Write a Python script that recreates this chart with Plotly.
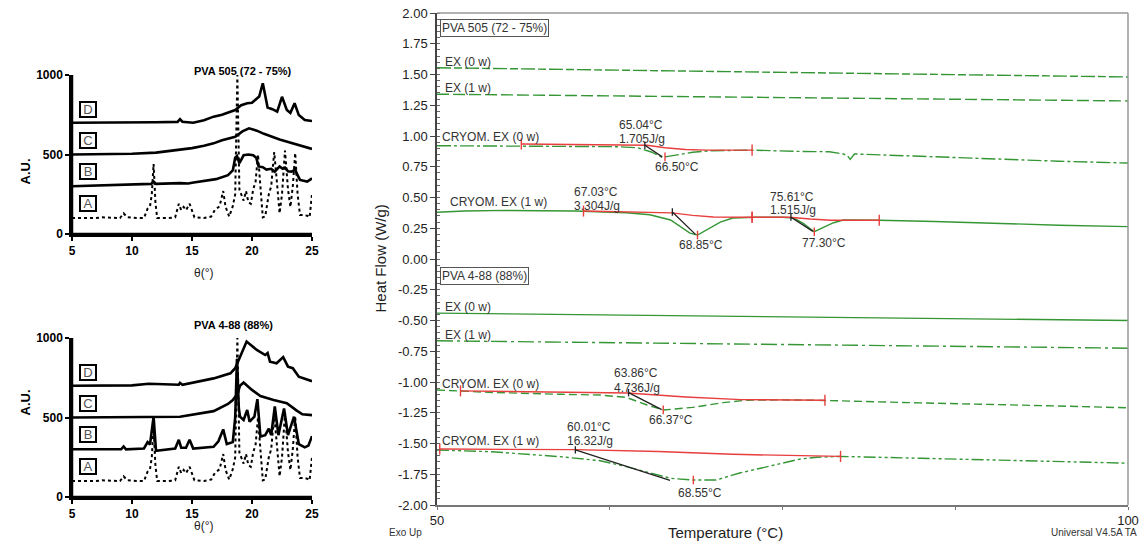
import numpy as np
import plotly.graph_objects as go

W, H = 1146, 555
FONT = "Liberation Sans"

# ---------------- XRD data (2theta, A.U.) ----------------
A_x = [5, 7.0, 7.5, 9.0, 9.3, 9.6, 10.5, 11.0, 11.3, 11.5, 11.65, 11.8, 11.95, 12.1, 13.0, 13.6, 13.9, 14.1, 14.3,
       14.5, 14.8, 15.0, 15.2, 16.0, 16.6, 16.9, 17.1, 17.3, 17.6, 17.8, 18.1, 18.4, 18.6, 18.78, 18.95, 19.1,
       19.3, 19.5, 19.7, 19.9, 20.1, 20.3, 20.5, 20.7, 20.9, 21.1, 21.4, 21.6, 21.85, 22.05, 22.3, 22.5, 22.75,
       23.0, 23.2, 23.4, 23.6, 23.8, 24.0, 24.3, 24.6, 24.8, 25.0]
A_y = [100, 100, 105, 100, 130, 105, 100, 100, 160, 175, 250, 440, 200, 100, 100, 105, 190, 150, 170,
       150, 190, 140, 105, 100, 110, 150, 165, 175, 270, 170, 110, 175, 250, 1000, 280, 250,
       210, 270, 200, 190, 280, 330, 500, 300, 105, 110, 250, 300, 515, 350, 130, 250, 525,
       280, 170, 300, 510, 250, 120, 120, 115, 105, 250]

B505_x = [5, 8, 10, 11.6, 11.8, 12.0, 14, 14.7, 15, 17, 18.0, 18.4, 18.6, 18.75, 18.95, 19.3, 19.7, 20.1, 20.35,
          20.55, 20.9, 21.2, 21.6, 21.9, 22.3, 22.55, 22.75, 23.0, 23.3, 23.6, 23.8, 24.0, 24.6, 25]
B505_y = [300, 305, 310, 315, 330, 315, 320, 318, 322, 345, 370, 400, 480, 490, 445, 495, 500, 495, 480,
          425, 420, 405, 410, 392, 425, 410, 418, 395, 392, 405, 370, 340, 330, 350]
C505_x = [5, 8, 10, 12, 14, 15, 16, 16.8, 17.5, 18.2, 18.6, 19.2, 19.75, 20.4, 21, 22.3, 23, 23.7, 24.3, 25]
C505_y = [500, 502, 505, 512, 528, 540, 555, 570, 590, 605, 612, 645, 665, 650, 630, 595, 580, 565, 550, 535]
D505_x = [5, 8, 10, 12, 13.8, 14.0, 14.2, 15.1, 16, 16.8, 17.5, 18.6, 19.1, 19.6, 20.0, 20.4, 20.6, 20.9, 21.1,
          21.3, 21.7, 22.1, 22.5, 22.9, 23.2, 23.55, 23.9, 24.4, 25]
D505_y = [700, 700, 702, 703, 705, 722, 706, 700, 715, 738, 750, 780, 810, 822, 825, 850, 865, 948, 880,
          795, 785, 769, 863, 780, 762, 822, 748, 717, 711]

B488_x = [5, 9.1, 9.3, 9.5, 11.0, 11.3, 11.5, 11.8, 12.0, 13.6, 13.9, 14.1, 14.5, 14.8, 15.1, 16.8, 17.2, 17.6,
          17.9, 18.4, 18.6, 18.75, 18.9, 19.0, 19.3, 19.6, 19.8, 20.2, 20.45, 20.7, 21.1, 21.4, 21.6, 21.9,
          22.2, 22.67, 23.0, 23.5, 23.9, 24.4, 24.7, 25]
B488_y = [300, 300, 318, 300, 305, 345, 330, 505, 290, 305, 360, 310, 310, 360, 305, 316, 350, 425,
          333, 345, 500, 870, 560, 505, 484, 547, 474, 505, 615, 380, 389, 430, 389, 570,
          389, 557, 389, 505, 333, 312, 323, 383]
C488_x = [5, 10, 14, 16.8, 18.0, 18.4, 18.8, 19.0, 19.3, 19.97, 20.7, 21.8, 22.9, 23.7, 24.2, 25]
C488_y = [500, 502, 505, 540, 585, 610, 650, 700, 720, 675, 635, 610, 590, 545, 520, 515]
D488_x = [5, 10, 11.4, 13.9, 14.0, 14.2, 16.8, 18.2, 18.6, 19.0, 19.55, 20.4, 21.1, 21.3, 21.5, 22.05, 22.6,
          23.0, 23.4, 23.9, 24.6, 25]
D488_y = [700, 702, 712, 706, 718, 706, 746, 778, 810, 882, 978, 925, 893, 905, 851, 841, 880,
          820, 810, 757, 736, 728]

xrd_letters = ["D", "C", "B", "A"]
xrd_letter_y = [780, 590, 390, 190]
xrd_ticks_x = [5, 10, 15, 20, 25]
xrd_ticks_y = [0, 500, 1000]

# ---------------- DSC data (Temperature °C, Heat flow W/g) ----------------
T_lin = [50, 60, 70, 80, 90, 100]
p505_ex0 = [1.555, 1.54, 1.525, 1.51, 1.495, 1.48]
p505_ex1 = [1.34, 1.33, 1.32, 1.31, 1.30, 1.285]
p488_ex0 = [-0.44, -0.452, -0.464, -0.476, -0.488, -0.50]
p488_ex1 = [-0.665, -0.677, -0.689, -0.701, -0.713, -0.725]

p505_c0_T = [50, 56, 60, 63, 64.5, 65.5, 66.3, 67.4, 68.5, 69.75, 72.8, 76, 78.4, 79.4, 79.7, 79.9, 80.2, 85,
             88.3, 95, 100]
p505_c0_H = [0.921, 0.92, 0.916, 0.913, 0.905, 0.87, 0.826, 0.85, 0.868, 0.88, 0.885, 0.875, 0.872, 0.854, 0.84,
             0.81, 0.854, 0.835, 0.82, 0.795, 0.78]
p505_c0_base_T = [56.1, 61, 65.2, 66.5, 68, 69.5, 72.8]
p505_c0_base_H = [0.935, 0.932, 0.925, 0.905, 0.89, 0.885, 0.885]

p505_c1_T = [50, 52, 55, 60, 63.7, 65.4, 66.9, 67.6, 68.3, 68.85, 69.5, 70.5, 71.4, 73, 75, 75.8, 76.5, 77.3,
             78.0, 78.7, 79.4, 82, 86, 90, 95, 100]
p505_c1_H = [0.38, 0.39, 0.395, 0.39, 0.376, 0.36, 0.317, 0.26, 0.21, 0.195, 0.235, 0.30, 0.333, 0.34, 0.34,
             0.333, 0.29, 0.222, 0.26, 0.295, 0.317, 0.315, 0.305, 0.29, 0.275, 0.263]
p505_c1_base1_T = [60.6, 64, 67, 68.5, 70, 72.8]
p505_c1_base1_H = [0.39, 0.385, 0.375, 0.355, 0.342, 0.34]
p505_c1_base2_T = [72.8, 75.5, 77, 78.5, 82.0]
p505_c1_base2_H = [0.34, 0.34, 0.325, 0.315, 0.315]

p488_c0_T = [50, 54, 59, 61.8, 63.7, 65.2, 66.4, 68.5, 70.7, 72.4, 75, 78, 85, 90, 95, 100]
p488_c0_H = [-1.065, -1.085, -1.1, -1.106, -1.125, -1.187, -1.228, -1.206, -1.168, -1.148, -1.145, -1.15,
             -1.17, -1.18, -1.195, -1.21]
p488_c0_base_T = [51.7, 58, 63.8, 68, 72, 78.07]
p488_c0_base_H = [-1.072, -1.082, -1.09, -1.122, -1.143, -1.148]

p488_c1_T = [50, 54, 58.9, 61.8, 63.7, 65.5, 66.9, 68.55, 70.2, 71.9, 74.3, 76.3, 77.5, 79.2, 85, 90, 95, 100]
p488_c1_H = [-1.553, -1.567, -1.607, -1.64, -1.688, -1.74, -1.783, -1.797, -1.797, -1.74, -1.675, -1.626,
             -1.612, -1.605, -1.62, -1.635, -1.648, -1.66]
p488_c1_base_T = [50.2, 60, 66, 71.4, 79.2]
p488_c1_base_H = [-1.545, -1.55, -1.565, -1.588, -1.605]

# onset (T, value) -> peak end (T, value) construction lines
onset_lines = [((65.04, 0.925), (66.3, 0.83)),
               ((67.03, 0.382), (68.7, 0.20)),
               ((75.61, 0.34), (77.2, 0.225)),
               ((63.86, -1.087), (66.26, -1.225)),
               ((60.01, -1.552), (66.86, -1.80))]
peaks = [(66.50, p505_c0_T, p505_c0_H), (68.85, p505_c1_T, p505_c1_H), (77.30, p505_c1_T, p505_c1_H),
         (66.37, p488_c0_T, p488_c0_H), (68.55, p488_c1_T, p488_c1_H)]
baselines = [(p505_c0_base_T, p505_c0_base_H), (p505_c1_base1_T, p505_c1_base1_H),
             (p505_c1_base2_T, p505_c1_base2_H), (p488_c0_base_T, p488_c0_base_H),
             (p488_c1_base_T, p488_c1_base_H)]

dsc_yticks = [2.0 - 0.25 * i for i in range(17)]
dsc_ytext = [f"{v:.2f}" for v in dsc_yticks]
dsc_xticks = [50, 62.5, 75, 87.5, 100]
dsc_xtext = ["50", "", "", "", "100"]

# annotation texts: (text, T_left, HF_center)
dsc_texts = [
    ("EX (0 w)", 50.45, 1.60), ("EX (1 w)", 50.45, 1.39),
    ("CRYOM. EX (0 w)", 50.25, 0.992), ("CRYOM. EX (1 w)", 50.8, 0.463),
    ("65.04°C", 63.0, 1.089), ("1.705J/g", 63.0, 0.976), ("66.50°C", 65.63, 0.748),
    ("67.03°C", 59.77, 0.545), ("3.304J/g", 59.77, 0.431), ("68.85°C", 67.37, 0.114),
    ("75.61°C", 73.95, 0.504), ("1.515J/g", 73.95, 0.398), ("77.30°C", 76.27, 0.13),
    ("EX (0 w)", 50.45, -0.39), ("EX (1 w)", 50.45, -0.618),
    ("CRYOM. EX (0 w)", 50.25, -1.016), ("CRYOM. EX (1 w)", 50.25, -1.48),
    ("63.86°C", 62.66, -0.927), ("4.736J/g", 62.66, -1.049), ("66.37°C", 65.2, -1.309),
    ("60.01°C", 59.26, -1.366), ("16.32J/g", 59.26, -1.48), ("68.55°C", 67.29, -1.902),
]
box_texts = [("PVA 505 (72 - 75%)", 50.2, 1.878), ("PVA 4-88 (88%)", 50.2, -0.14)]

GREEN = "rgb(52,150,52)"
RED = "rgb(232,62,62)"

fig = go.Figure()

# ---------- XRD traces ----------
def xrd(xs, ys, xa, ya, dotted=False):
    fig.add_trace(go.Scatter(x=xs, y=ys, xaxis=xa, yaxis=ya, mode="lines", showlegend=False,
                             line=dict(color="black", width=2.6 if not dotted else 2.0,
                                       dash="dot" if dotted else "solid")))

xrd(A_x, A_y, "x", "y", True)
xrd(B505_x, B505_y, "x", "y")
xrd(C505_x, C505_y, "x", "y")
xrd(D505_x, D505_y, "x", "y")
xrd(A_x, A_y, "x2", "y2", True)
xrd(B488_x, B488_y, "x2", "y2")
xrd(C488_x, C488_y, "x2", "y2")
xrd(D488_x, D488_y, "x2", "y2")

# ---------- DSC traces ----------
def dsc(xs, ys, dash, color=GREEN, width=1.4):
    fig.add_trace(go.Scatter(x=xs, y=ys, xaxis="x3", yaxis="y3", mode="lines", showlegend=False,
                             line=dict(color=color, width=width, dash=dash)))

dsc(T_lin, p505_ex0, "14px,3px,8px,3px")
dsc(T_lin, p505_ex1, "12px,4px")
dsc(p505_c0_T, p505_c0_H, "14px,3px,3px,3px")
dsc(p505_c1_T, p505_c1_H, "solid")
dsc(T_lin, p488_ex0, "solid")
dsc(T_lin, p488_ex1, "16px,4px,3px,4px")
dsc(p488_c0_T, p488_c0_H, "8px,4px")
dsc(p488_c1_T, p488_c1_H, "12px,3px,3px,3px,3px,3px")

# red baselines
for bt, bh in baselines:
    dsc(bt, bh, "solid", RED, 1.4)

# red ticks at baseline ends and at peaks
tx, ty = [], []
half = 0.045
for bt, bh in baselines:
    for t, h in ((bt[0], bh[0]), (bt[-1], bh[-1])):
        tx += [t, t, None]
        ty += [h - half, h + half, None]
for pt, cT, cH in peaks:
    h = float(np.interp(pt, cT, cH))
    tx += [pt, pt, None]
    ty += [h - 0.035, h + 0.035, None]
dsc(tx, ty, "solid", RED, 1.4)

# black onset construction lines + onset ticks
bx, by = [], []
for (t0, h0), (t1, h1) in onset_lines:
    bx += [t0, t1, None, t0, t0, None]
    by += [h0, h1, None, h0 - 0.03, h0 + 0.03, None]
dsc(bx, by, "solid", "#222", 1.3)

# ---------- layout ----------
XRD_X = (72, 312)
XRD_TOP_Y = (75, 234)
XRD_BOT_Y = (338, 497)

def dom_x(a, b):
    return [a / W, b / W]

def dom_y(top, bottom):
    return [1 - bottom / H, 1 - top / H]

bold = dict(family=FONT, size=12, color="black", weight="bold")
xrd_axis = dict(showline=True, linewidth=2.5, linecolor="black", ticks="outside", ticklen=4, tickwidth=2,
                tickcolor="black", showgrid=False, zeroline=False, tickfont=bold, automargin=False)

fig.update_layout(
    template="none",
    width=W, height=H, margin=dict(l=0, r=0, t=0, b=0, pad=0, autoexpand=False),
    paper_bgcolor="white", plot_bgcolor="white", showlegend=False,
    font=dict(family=FONT),
    xaxis=dict(domain=dom_x(*XRD_X), range=[5, 25], anchor="y", tickvals=xrd_ticks_x, **xrd_axis),
    yaxis=dict(domain=dom_y(*XRD_TOP_Y), range=[0, 1000], anchor="x", tickvals=xrd_ticks_y, **xrd_axis),
    xaxis2=dict(domain=dom_x(*XRD_X), range=[5, 25], anchor="y2", tickvals=xrd_ticks_x, **xrd_axis),
    yaxis2=dict(domain=dom_y(*XRD_BOT_Y), range=[0, 1000], anchor="x2", tickvals=xrd_ticks_y, **xrd_axis),
    xaxis3=dict(domain=dom_x(437, 1128), range=[50, 100], anchor="y3", tickvals=dsc_xticks, ticktext=dsc_xtext,
                showline=True, linewidth=1.5, linecolor="#777", ticks="outside", ticklen=3, tickcolor="#777",
                showgrid=False, zeroline=False, automargin=False,
                tickfont=dict(family=FONT, size=13, color="#222")),
    yaxis3=dict(domain=dom_y(13, 505), range=[-2, 2], anchor="x3", tickvals=dsc_yticks, ticktext=dsc_ytext,
                showline=True, linewidth=1.5, linecolor="#444", ticks="outside", ticklen=5, tickcolor="#444",
                minor=dict(dtick=0.05, ticks="inside", ticklen=3, tickcolor="#666"),
                showgrid=False, zeroline=False, automargin=False,
                tickfont=dict(family=FONT, size=13, color="#222")),
)

# XRD axis lines (left and bottom) as paper shapes, so they are never clipped
for ytop, ybot in (XRD_TOP_Y, XRD_BOT_Y):
    xl, xr_ = XRD_X[0] / W, XRD_X[1] / W
    yt, yb = 1 - ytop / H, 1 - ybot / H
    fig.add_shape(type="line", xref="paper", yref="paper", x0=xl, y0=yb, x1=xl, y1=yt,
                  line=dict(color="black", width=2.5), layer="above")
    fig.add_shape(type="line", xref="paper", yref="paper", x0=xl, y0=yb, x1=xr_, y1=yb,
                  line=dict(color="black", width=2.5), layer="above")

# DSC frame (top and right edges)
for x0, y0, x1, y1 in ((0, 1, 1, 1), (1, 0, 1, 1)):
    fig.add_shape(type="line", xref="x3 domain", yref="y3 domain", x0=x0, y0=y0, x1=x1, y1=y1,
                  line=dict(color="#999", width=1.5))

ann = []
# XRD panel texts
for title, ttop, axy, xtit_y, xr, yr in (("PVA 505 (72 - 75%)", 63, 157, 273, "x", "y"),
                                          ("PVA 4-88 (88%)", 325, 418, 535, "x2", "y2")):
    ann.append(dict(text=title, x=192 / W, y=1 - ttop / H, xref="paper", yref="paper", showarrow=False,
                    font=dict(family=FONT, size=11, color="black", weight="bold")))
    ann.append(dict(text="A.U.", x=15 / W, y=1 - axy / H, xref="paper", yref="paper", showarrow=False,
                    textangle=-90, font=dict(family=FONT, size=13, color="black", weight="bold")))
    ann.append(dict(text="θ(°)", x=192 / W, y=1 - xtit_y / H, xref="paper", yref="paper", showarrow=False,
                    font=dict(family=FONT, size=12, color="#222")))
    for letter, ly in zip(xrd_letters, xrd_letter_y):
        ann.append(dict(text=letter, x=6.33, y=ly, xref=xr, yref=yr, showarrow=False, width=14, height=13,
                        bordercolor="black", borderwidth=2, borderpad=0, bgcolor="white",
                        font=dict(family=FONT, size=13, color="#555")))

for txt, t, h in dsc_texts:
    ann.append(dict(text=txt, x=t, y=h, xref="x3", yref="y3", xanchor="left", yanchor="middle",
                    showarrow=False, font=dict(family=FONT, size=12, color="#333")))
for txt, t, h in box_texts:
    ann.append(dict(text=txt, x=t, y=h, xref="x3", yref="y3", xanchor="left", yanchor="middle",
                    showarrow=False, bordercolor="#555", borderwidth=1, borderpad=1, bgcolor="white",
                    font=dict(family=FONT, size=12, color="#333")))

ann.append(dict(text="Heat Flow (W/g)", x=369 / W, y=1 - 259 / H, xref="paper", yref="paper", showarrow=False,
                textangle=-90, font=dict(family=FONT, size=15, color="#222")))
ann.append(dict(text="Temperature (°C)", x=785 / W, y=1 - 543 / H, xref="paper", yref="paper", showarrow=False,
                font=dict(family=FONT, size=15, color="#222")))
ann.append(dict(text="Exo Up", x=387 / W, y=1 - 540 / H, xref="paper", yref="paper", showarrow=False,
                xanchor="left", font=dict(family=FONT, size=10, color="#333")))
ann.append(dict(text="Universal V4.5A TA", x=1139 / W, y=1 - 540 / H, xref="paper", yref="paper",
                showarrow=False, xanchor="right", font=dict(family=FONT, size=10, color="#333")))

fig.update_layout(annotations=ann)
fig.write_html("out.html")
